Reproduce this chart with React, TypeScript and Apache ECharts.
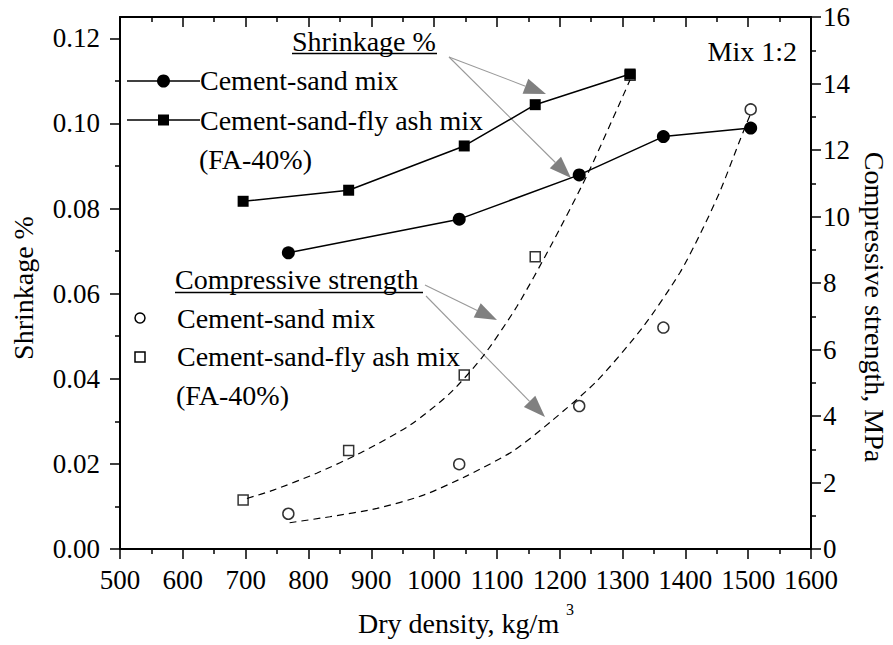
import React, { useEffect, useRef } from "react";
import * as echarts from "echarts";

const FONT = "Liberation Serif";

// x values (dry density, kg/m3)
const densityCS = [768, 1040, 1231, 1365, 1504];
const densityFA = [696, 864, 1048, 1161, 1312];
// Shrinkage %
const shrinkCS = [0.0696, 0.0775, 0.0879, 0.0969, 0.0989];
const shrinkFA = [0.0817, 0.0843, 0.0947, 0.1044, 0.1116];
// Compressive strength, MPa
const strengthCS = [1.06, 2.55, 4.3, 6.66, 13.22];
const strengthFA = [1.47, 2.96, 5.23, 8.79, 14.25];
// Dashed trend curves
const fitCSx = [770, 834, 909, 983, 1052, 1126, 1187, 1259, 1333, 1391, 1423, 1455, 1487, 1503];
const fitCSy = [0.79, 0.97, 1.22, 1.62, 2.2, 2.95, 3.85, 5.05, 6.69, 8.3, 9.45, 10.75, 12.3, 13.05];
const fitFAx = [702, 744, 813, 887, 962, 1025, 1078, 1132, 1185, 1245, 1312];
const fitFAy = [1.52, 1.77, 2.28, 2.93, 3.73, 4.68, 5.8, 7.3, 9.09, 11.3, 14.11];

// Axis ticks
const leftMajor = [0, 0.02, 0.04, 0.06, 0.08, 0.1, 0.12];
const leftMinor = [0.01, 0.03, 0.05, 0.07, 0.09, 0.11];

const zip = (xs: number[], ys: number[]) => xs.map((x, i) => [x, ys[i]]);

function arrow(x1: number, y1: number, x2: number, y2: number) {
  const dx = x2 - x1;
  const dy = y2 - y1;
  const len = Math.sqrt(dx * dx + dy * dy);
  const ux = dx / len;
  const uy = dy / len;
  const L = 22;
  const w = 8;
  const bx = x2 - L * ux;
  const by = y2 - L * uy;
  const nx = -uy;
  const ny = ux;
  return [
    {
      type: "line",
      shape: { x1, y1, x2: bx, y2: by },
      style: { stroke: "#999999", lineWidth: 1.1 },
      silent: true,
    },
    {
      type: "polygon",
      shape: {
        points: [
          [x2, y2],
          [bx + w * nx, by + w * ny],
          [bx - w * nx, by - w * ny],
        ],
      },
      style: { fill: "#808080" },
      silent: true,
    },
  ];
}

function txt(text: string, x: number, y: number, extra: any = {}) {
  return {
    type: "text",
    x,
    y,
    style: {
      text,
      fill: "#000",
      fontFamily: FONT,
      fontSize: 28,
      verticalAlign: "middle",
      align: "left",
      ...extra,
    },
    silent: true,
  };
}

export default function App() {
  const ref = useRef<HTMLDivElement>(null);
  useEffect(() => {
    if (!ref.current) return;
    const chart = echarts.init(ref.current, undefined, { renderer: "svg" });
    const axisLine = { show: true, onZero: false, lineStyle: { color: "#000", width: 2 } };
    const tickStyle = { color: "#000", width: 1.5 };
    const rich = { t: { fontFamily: FONT, fontSize: 27, color: "#000" } };
    const labelStyle = { color: "#000", fontFamily: FONT, fontSize: 27, rich };

    const graphic: any[] = [
      // axis titles
      { ...txt("Shrinkage %", 0, 0, { align: "center" }), x: 23, y: 288, rotation: Math.PI / 2 },
      { ...txt("Compressive strength, MPa", 0, 0, { align: "center" }), x: 874, y: 307, rotation: -Math.PI / 2 },
      txt("Dry density, kg/m", 358, 623),
      txt("3", 566, 609, { fontSize: 16 }),
      txt("Mix 1:2", 797, 51, { align: "right" }),
      // shrinkage legend
      txt("Shrinkage %", 292, 41),
      { type: "line", shape: { x1: 292, y1: 53.5, x2: 437, y2: 53.5 }, style: { stroke: "#000", lineWidth: 1.5 } },
      { type: "line", shape: { x1: 127, y1: 81, x2: 200, y2: 81 }, style: { stroke: "#000", lineWidth: 1.5 } },
      { type: "circle", shape: { cx: 163.5, cy: 81, r: 6.5 }, style: { fill: "#000" } },
      txt("Cement-sand mix", 200, 80),
      { type: "line", shape: { x1: 127, y1: 120, x2: 200, y2: 120 }, style: { stroke: "#000", lineWidth: 1.5 } },
      { type: "rect", shape: { x: 158, y: 114.5, width: 11, height: 11 }, style: { fill: "#000" } },
      txt("Cement-sand-fly ash mix", 200, 120),
      txt("(FA-40%)", 199, 159),
      // compressive legend
      txt("Compressive strength", 175, 279),
      { type: "line", shape: { x1: 175, y1: 292.5, x2: 423, y2: 292.5 }, style: { stroke: "#000", lineWidth: 1.5 } },
      { type: "circle", shape: { cx: 140, cy: 318, r: 5 }, style: { fill: "none", stroke: "#000", lineWidth: 1.5 } },
      txt("Cement-sand mix", 177, 318),
      { type: "rect", shape: { x: 135, y: 352, width: 10, height: 10 }, style: { fill: "none", stroke: "#000", lineWidth: 1.5 } },
      txt("Cement-sand-fly ash mix", 177, 356.5),
      txt("(FA-40%)", 176, 395.5),
      // arrows
      ...arrow(449, 57, 546, 94),
      ...arrow(449, 57, 571, 178),
      ...arrow(425, 285, 497, 320),
      ...arrow(426, 296, 545, 417),
    ];

    chart.setOption({
      animation: false,
      backgroundColor: "#fff",
      textStyle: { fontFamily: FONT, color: "#000" },
      grid: { left: 120, right: 82, top: 17, bottom: 96, containLabel: false },
      xAxis: [
        {
          type: "value",
          position: "bottom",
          min: 500,
          max: 1600,
          interval: 100,
          axisLine,
          axisTick: { show: true, length: 10, lineStyle: tickStyle },
          minorTick: { show: true, splitNumber: 2, length: 5, lineStyle: tickStyle },
          axisLabel: { ...labelStyle, margin: 17, formatter: (v: number) => "{t|" + String(v) + "}" },
          splitLine: { show: false },
        },
        {
          type: "value",
          position: "top",
          min: 500,
          max: 1600,
          interval: 100,
          axisLine,
          axisTick: { show: true, inside: true, length: 10, lineStyle: tickStyle },
          minorTick: { show: true, splitNumber: 2, length: 5, lineStyle: tickStyle },
          axisLabel: { show: false },
          splitLine: { show: false },
        },
      ],
      yAxis: [
        {
          type: "value",
          position: "left",
          min: 0,
          max: 0.125,
          interval: 0.02,
          axisLine,
          axisTick: { show: true, length: 10, lineStyle: tickStyle, customValues: leftMajor },
          axisLabel: {
            ...labelStyle,
            margin: 20,
            customValues: leftMajor,
            formatter: (v: number) => "{t|" + v.toFixed(2) + "}",
          },
          splitLine: { show: false },
        },
        {
          type: "value",
          position: "right",
          min: 0,
          max: 16,
          interval: 2,
          axisLine,
          axisTick: { show: true, length: 10, lineStyle: tickStyle },
          minorTick: { show: true, splitNumber: 2, length: 5, lineStyle: tickStyle },
          axisLabel: { ...labelStyle, margin: 12, formatter: (v: number) => "{t|" + String(v) + "}" },
          splitLine: { show: false },
        },
        {
          type: "value",
          position: "left",
          min: 0,
          max: 0.125,
          axisLine: { show: false, onZero: false },
          axisTick: { show: true, length: 5, lineStyle: tickStyle, customValues: leftMinor },
          axisLabel: { show: false },
          splitLine: { show: false },
        },
      ],
      series: [
        {
          name: "fitCS",
          type: "line",
          xAxisIndex: 0,
          yAxisIndex: 1,
          data: zip(fitCSx, fitCSy),
          smooth: 0.25,
          symbol: "none",
          lineStyle: { color: "#000", width: 1.2, type: [7, 5] },
          z: 1,
        },
        {
          name: "fitFA",
          type: "line",
          xAxisIndex: 0,
          yAxisIndex: 1,
          data: zip(fitFAx, fitFAy),
          smooth: 0.25,
          symbol: "none",
          lineStyle: { color: "#000", width: 1.2, type: [7, 5] },
          z: 1,
        },
        {
          name: "Shrinkage cement-sand",
          type: "line",
          xAxisIndex: 0,
          yAxisIndex: 0,
          data: zip(densityCS, shrinkCS),
          symbol: "circle",
          symbolSize: 13,
          lineStyle: { color: "#000", width: 1.5 },
          itemStyle: { color: "#000" },
          z: 3,
        },
        {
          name: "Shrinkage fly ash",
          type: "line",
          xAxisIndex: 0,
          yAxisIndex: 0,
          data: zip(densityFA, shrinkFA),
          symbol: "rect",
          symbolSize: 11,
          lineStyle: { color: "#000", width: 1.5 },
          itemStyle: { color: "#000" },
          z: 3,
        },
        {
          name: "Strength cement-sand",
          type: "scatter",
          xAxisIndex: 0,
          yAxisIndex: 1,
          data: zip(densityCS, strengthCS),
          symbol: "circle",
          symbolSize: 11,
          itemStyle: { color: "rgba(0,0,0,0)", borderColor: "#000", borderWidth: 1.5 },
          z: 2,
        },
        {
          name: "Strength fly ash",
          type: "scatter",
          xAxisIndex: 0,
          yAxisIndex: 1,
          data: zip(densityFA, strengthFA),
          symbol: "rect",
          symbolSize: 10,
          itemStyle: { color: "rgba(0,0,0,0)", borderColor: "#000", borderWidth: 1.5 },
          z: 2,
        },
      ],
      graphic: { elements: graphic },
    });
    return () => chart.dispose();
  }, []);
  return (
    <div
      ref={ref}
      style={{ position: "absolute", left: 0, top: 0, width: 893, height: 645, background: "#fff" }}
    />
  );
}
